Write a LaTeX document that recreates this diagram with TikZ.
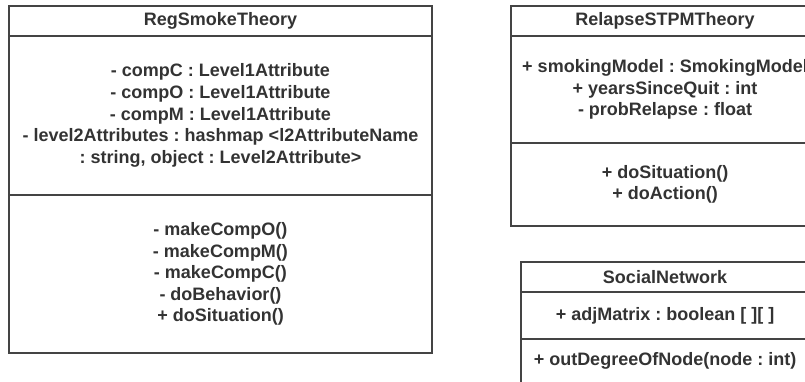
\documentclass[tikz,border=0pt]{standalone}
\usepackage{fontspec}
\setmainfont{Liberation Sans}
\usepackage{xcolor}
\definecolor{umlline}{RGB}{68,68,68}
\definecolor{umltext}{RGB}{51,51,51}
\frenchspacing

\begin{document}
\begin{tikzpicture}[x=1pt, y=-1pt,
        compartment/.style={draw=umlline, line width=1.7pt, text=umltext, align=center,
            inner sep=0pt, font=\fontsize{18}{21.6}\selectfont\bfseries}]
        \useasboundingbox (0, 0) rectangle (805, 381);
        \node[compartment, minimum width=423pt, minimum height=30pt] (reg) at (220.5, 21) {RegSmokeTheory};
        \node[compartment, minimum width=423pt, minimum height=159pt] (regattr) at (220.5, 115.5)
            {- compC : Level1Attribute\\- compO : Level1Attribute\\- compM : Level1Attribute\\
             - level2Attributes : hashmap <l2AttributeName\\: string, object : Level2Attribute>};
        \node[compartment, minimum width=423pt, minimum height=158pt] (regops) at (220.5, 274)
            {- makeCompO()\\- makeCompM()\\- makeCompC()\\- doBehavior()\\+ doSituation()};
        \node[compartment, minimum width=308pt, minimum height=30pt] (relapse) at (665, 21) {RelapseSTPMTheory};
        \node[compartment, minimum width=308pt, minimum height=107pt] (relapseattr) at (665, 89.5)
            {+ smokingModel : SmokingModel\\+ yearsSinceQuit : int\\- probRelapse : float};
        \node[compartment, minimum width=308pt, minimum height=83pt] (relapseops) at (665, 184.5)
            {+ doSituation()\\+ doAction()};
        \node[compartment, minimum width=288pt, minimum height=30pt] (net) at (665, 277) {SocialNetwork};
        \node[compartment, minimum width=288pt, minimum height=47pt] (netattr) at (665, 315.5)
            {+ adjMatrix : boolean [ ][ ]};
        \node[compartment, minimum width=288pt, minimum height=44pt] (netops) at (665, 361)
            {+ outDegreeOfNode(node : int)};
    \end{tikzpicture}
\end{document}
